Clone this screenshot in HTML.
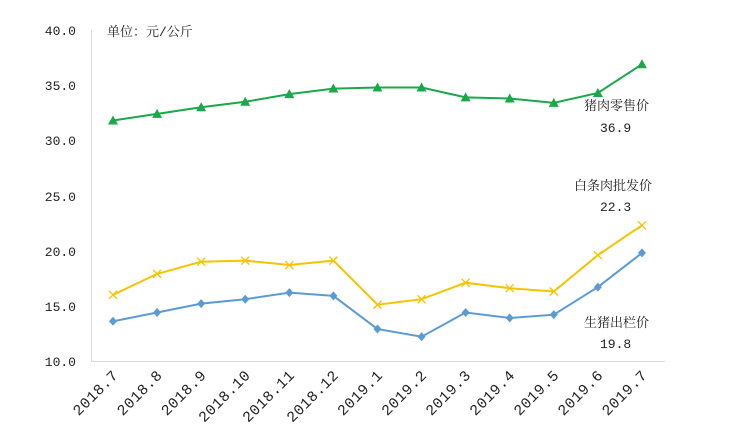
<!DOCTYPE html><html><head><meta charset="utf-8"><style>body{margin:0;background:#fff}svg{display:block}text{font-family:"Liberation Mono","Noto Serif CJK SC",monospace;font-size:13px;fill:#222}text.xl{font-size:15px;letter-spacing:0.5px}</style></head><body>
<svg width="750" height="442" viewBox="0 0 750 442">
<line x1="91.5" y1="30" x2="91.5" y2="361.5" stroke="#d9d9d9"/>
<line x1="91" y1="361.5" x2="665" y2="361.5" stroke="#d9d9d9"/>
<g text-anchor="end">
<text x="76" y="35">40.0</text><text x="76" y="90">35.0</text><text x="76" y="145">30.0</text><text x="76" y="201">25.0</text><text x="76" y="256">20.0</text><text x="76" y="311">15.0</text><text x="76" y="366">10.0</text>
</g>
<text x="107" y="36">单位：元/公斤</text>
<g id="xl" text-anchor="end"></g>
<polyline id="g" fill="none" stroke="#1aa84a" stroke-width="2"/>
<polyline id="y" fill="none" stroke="#f5c400" stroke-width="2"/>
<polyline id="b" fill="none" stroke="#5b9bd5" stroke-width="2"/>
<g id="m"></g>
<text x="584" y="110">猪肉零售价</text><text x="600" y="132">36.9</text>
<text x="574" y="190">白条肉批发价</text><text x="600" y="211">22.3</text>
<text x="584" y="327">生猪出栏价</text><text x="600" y="348">19.8</text>
</svg>
<script>
var L=["2018.7","2018.8","2018.9","2018.10","2018.11","2018.12","2019.1","2019.2","2019.3","2019.4","2019.5","2019.6","2019.7"];
var G=[31.8,32.4,33.0,33.5,34.2,34.7,34.8,34.8,33.9,33.8,33.4,34.3,36.9];
var Y=[16.0,17.9,19.0,19.1,18.7,19.1,15.1,15.6,17.1,16.6,16.3,19.6,22.3];
var B=[13.6,14.4,15.2,15.6,16.2,15.9,12.9,12.2,14.4,13.9,14.2,16.7,19.8];
function X(i){return 113+i*44.08}function V(v){return 361-(v-10)*11.03}
function pts(a){return a.map(function(v,i){return X(i).toFixed(1)+","+V(v).toFixed(1)}).join(" ")}
document.getElementById("g").setAttribute("points",pts(G));
document.getElementById("y").setAttribute("points",pts(Y));
document.getElementById("b").setAttribute("points",pts(B));
var m=document.getElementById("m"),h="";
for(var i=0;i<13;i++){var x=X(i);
var gy=V(G[i]);h+='<polygon points="'+x+','+(gy-5)+' '+(x+5)+','+(gy+4)+' '+(x-5)+','+(gy+4)+'" fill="#1aa84a"/>';
var yy=V(Y[i]);h+='<path d="M'+(x-4)+' '+(yy-4)+'L'+(x+4)+' '+(yy+4)+'M'+(x+4)+' '+(yy-4)+'L'+(x-4)+' '+(yy+4)+'" stroke="#f5c400" stroke-width="1.3"/>';
var by=V(B[i]);h+='<polygon points="'+x+','+(by-4.5)+' '+(x+4)+','+by+' '+x+','+(by+4.5)+' '+(x-4)+','+by+'" fill="#5b9bd5"/>';}
m.innerHTML=h;
var xl=document.getElementById("xl"),s="";
for(var i=0;i<13;i++){var x=X(i)+6,y=376;s+='<text class="xl" x="'+x+'" y="'+y+'" transform="rotate(-45 '+x+' '+y+')">'+L[i]+'</text>';}
xl.innerHTML=s;
</script>
</body></html>
